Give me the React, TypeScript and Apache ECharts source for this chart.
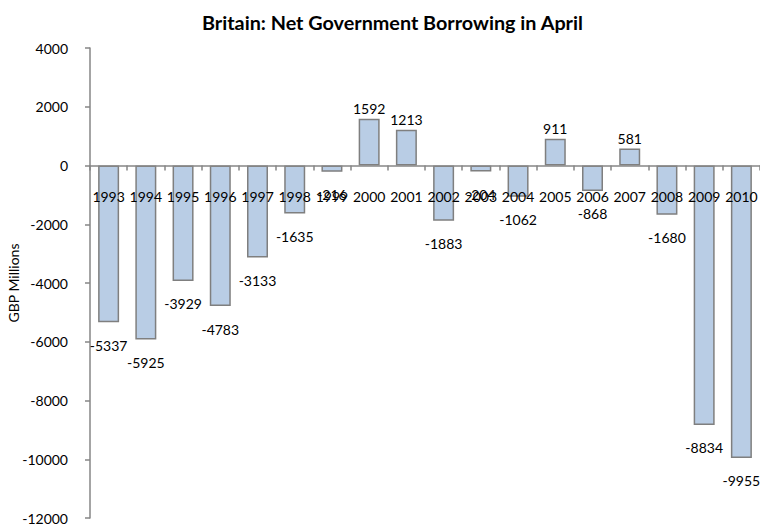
import React, { useEffect, useRef } from "react";
import * as echarts from "echarts";

const years: string[] = [
  "1993", "1994", "1995", "1996", "1997", "1998", "1999", "2000", "2001",
  "2002", "2003", "2004", "2005", "2006", "2007", "2008", "2009", "2010",
];
const borrowing: number[] = [
  -5337, -5925, -3929, -4783, -3133, -1635, -216, 1592, 1213,
  -1883, -204, -1062, 911, -868, 581, -1680, -8834, -9955,
];
const yMin = -12000;
const yMax = 4000;
const yStep = 2000;

const FONT = "Lato, 'Noto Sans', sans-serif";
const GRID_TOP = 48;
const GRID_BOTTOM_PX = 518;

export default function App() {
  const ref = useRef<HTMLDivElement>(null);
  useEffect(() => {
    if (!ref.current) return;
    const chart = echarts.init(ref.current, undefined, { renderer: "svg" });
    const data = borrowing.map((v) => ({
      value: v,
      label: v >= 0
        ? { position: "top" as const, distance: 3 }
        : { position: "bottom" as const, distance: 16 },
    }));
    const zeroPx = GRID_TOP + ((GRID_BOTTOM_PX - GRID_TOP) * yMax) / (yMax - yMin);
    chart.setOption({
      animation: false,
      backgroundColor: "#ffffff",
      title: {
        text: "Britain: Net Government Borrowing in April",
        left: 197,
        top: 7,
        textStyle: { fontFamily: FONT, fontSize: 19.8, fontWeight: "bold", color: "#000" },
      },
      grid: {
        left: 90,
        right: 0,
        top: GRID_TOP,
        bottom: 529 - GRID_BOTTOM_PX,
        containLabel: false,
        outerBoundsMode: "none",
      },
      xAxis: {
        type: "category",
        data: years,
        position: "bottom",
        z: 5,
        offset: -(GRID_BOTTOM_PX - zeroPx),
        axisLine: { onZero: false, lineStyle: { color: "#868686", width: 1.5 } },
        axisTick: { show: true, length: 5, lineStyle: { color: "#868686", width: 1.5 } },
        axisLabel: { margin: 24, color: "#000", fontFamily: FONT, fontSize: 14, interval: 0 },
        splitLine: { show: false },
      },
      yAxis: {
        type: "value",
        min: yMin,
        max: yMax,
        interval: yStep,
        name: "GBP Millions",
        nameLocation: "middle",
        nameGap: 70,
        nameRotate: 90,
        nameMoveOverlap: false,
        nameTextStyle: { fontFamily: FONT, fontSize: 14, color: "#000" },
        axisLine: { show: true, lineStyle: { color: "#868686", width: 1.5 } },
        axisTick: { show: true, length: 5, lineStyle: { color: "#868686", width: 1.5 } },
        axisLabel: {
          margin: 22,
          color: "#000",
          fontFamily: FONT,
          fontSize: 14,
          formatter: (v: number) => String(v),
        },
        splitLine: { show: false },
      },
      series: [
        {
          type: "bar",
          data,
          barWidth: 21,
          itemStyle: { color: "#B9CDE5", borderColor: "#7F7F7F", borderWidth: 1.5 },
          label: {
            show: true,
            color: "#000",
            fontFamily: FONT,
            fontSize: 14,
          },
        },
      ],
    });
    return () => chart.dispose();
  }, []);
  return (
    <div
      ref={ref}
      style={{ position: "fixed", left: 0, top: 0, width: 760, height: 529 }}
    />
  );
}
